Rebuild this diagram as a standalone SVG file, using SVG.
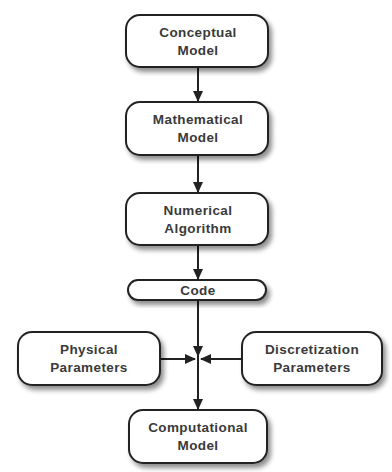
<svg xmlns="http://www.w3.org/2000/svg" width="392" height="472" viewBox="0 0 392 472">
<style>
.box{fill:#fff;stroke:#222;stroke-width:2;filter:url(#sh)}
.t{font-family:"Liberation Sans",Arial,sans-serif;font-weight:bold;font-size:13.5px;letter-spacing:0.4px;fill:#3a3a3a;text-anchor:middle}
.c{stroke:#222;stroke-width:2;fill:none}
</style>
<defs>
<filter id="sh" x="-20%" y="-20%" width="150%" height="160%">
<feGaussianBlur in="SourceAlpha" stdDeviation="2.5"/>
<feOffset dx="3" dy="4" result="b"/>
<feComponentTransfer><feFuncA type="linear" slope="0.45"/></feComponentTransfer>
<feMerge><feMergeNode/><feMergeNode in="SourceGraphic"/></feMerge>
</filter>
<marker id="ah" markerWidth="11" markerHeight="10" refX="10" refY="5" orient="auto" markerUnits="userSpaceOnUse">
<path d="M0,0 L11,5 L0,10 Z" fill="#222"/>
</marker>
</defs>
<rect width="392" height="472" fill="#fff"/>
<g id="connectors">
<line class="c" x1="198" y1="67" x2="198" y2="101" marker-end="url(#ah)"/>
<line class="c" x1="198" y1="155" x2="198" y2="192" marker-end="url(#ah)"/>
<line class="c" x1="198" y1="245" x2="198" y2="279" marker-end="url(#ah)"/>
<line class="c" x1="198" y1="300" x2="198" y2="356" marker-end="url(#ah)"/>
<line class="c" x1="198" y1="356" x2="198" y2="409" marker-end="url(#ah)"/>
<line class="c" x1="160" y1="359" x2="195" y2="359" marker-end="url(#ah)"/>
<line class="c" x1="242" y1="359" x2="201" y2="359" marker-end="url(#ah)"/>
</g>
<g id="conceptual">
<rect class="box" x="126" y="15" width="142" height="52" rx="14"/>
<text class="t" x="198" y="37">Conceptual</text>
<text class="t" x="198" y="55">Model</text>
</g>
<g id="mathematical">
<rect class="box" x="126" y="102" width="142" height="53" rx="14"/>
<text class="t" x="198" y="124">Mathematical</text>
<text class="t" x="198" y="142">Model</text>
</g>
<g id="numerical">
<rect class="box" x="126" y="193" width="142" height="52" rx="14"/>
<text class="t" x="198" y="215">Numerical</text>
<text class="t" x="198" y="233">Algorithm</text>
</g>
<g id="code">
<rect class="box" x="128" y="280" width="138" height="20" rx="10"/>
<text class="t" x="198" y="295">Code</text>
</g>
<g id="physical">
<rect class="box" x="18" y="332" width="142" height="53" rx="14"/>
<text class="t" x="89" y="354">Physical</text>
<text class="t" x="89" y="372">Parameters</text>
</g>
<g id="discretization">
<rect class="box" x="242" y="332" width="140" height="53" rx="14"/>
<text class="t" x="312" y="354">Discretization</text>
<text class="t" x="312" y="372">Parameters</text>
</g>
<g id="computational">
<rect class="box" x="129" y="410" width="138" height="53" rx="14"/>
<text class="t" x="198" y="432">Computational</text>
<text class="t" x="198" y="450">Model</text>
</g>
</svg>
